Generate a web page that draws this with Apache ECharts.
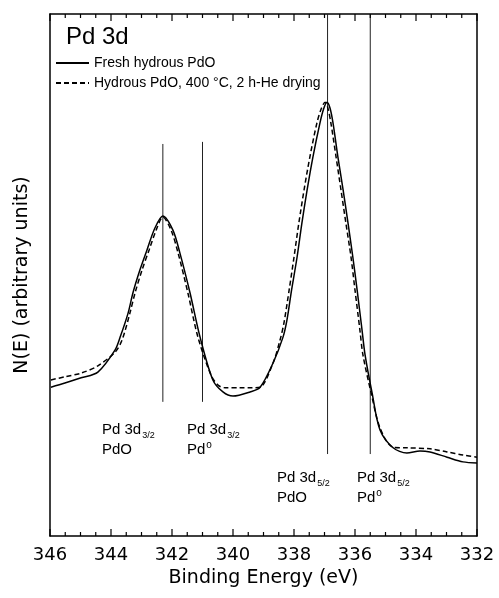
<!DOCTYPE html>
<html>
<head>
<meta charset="utf-8">
<script src="https://cdn.jsdelivr.net/npm/echarts@6/dist/echarts.min.js"></script>
<style>
  html, body { margin: 0; padding: 0; background: #fff; }
  #chart { width: 499px; height: 598px; }
</style>
</head>
<body>
<div id="chart"></div>
<script>
// binding energy (eV) and N(E) in arbitrary units (0..100 of the frame)
const freshEnergy = [345.97, 345.51, 344.98, 344.43, 343.87, 343.70, 343.44, 343.28, 343.05, 342.82,
  342.56, 342.30, 341.97, 341.74, 341.41, 341.08, 340.66, 340.33, 340.00, 339.44,
  339.11, 338.69, 338.36, 338.23, 338.08, 337.90, 337.74, 337.57, 337.38, 337.15,
  337.03, 336.92, 336.82, 336.72, 336.56, 336.39, 336.23, 336.07, 335.93, 335.77,
  335.67, 335.44, 335.18, 334.75, 334.30, 333.87, 333.54, 332.98, 332.46, 332.00]
const freshCounts = [28.5, 29.3, 30.3, 31.4, 35.6, 38.1, 42.7, 46.6, 51.0, 54.8,
  59.0, 61.3, 58.6, 54.2, 46.6, 38.1, 29.9, 27.6, 26.8, 27.6,
  28.5, 33.1, 38.1, 41.4, 47.1, 53.4, 60.0, 66.3, 72.6, 79.1,
  81.8, 83.1, 82.0, 79.1, 72.6, 66.3, 60.0, 53.4, 47.1, 39.5,
  34.7, 27.4, 20.3, 16.9, 15.9, 16.3, 16.1, 15.1, 14.2, 14.0]

const driedEnergy = [345.97, 345.51, 344.98, 344.43, 343.87, 343.64, 343.38, 343.21, 342.98, 342.75,
  342.52, 342.30, 342.03, 341.80, 341.48, 341.15, 340.72, 340.49, 340.26, 339.77,
  339.38, 339.11, 338.69, 338.46, 338.33, 338.16, 338.00, 337.84, 337.67, 337.48,
  337.25, 337.11, 336.98, 336.89, 336.79, 336.62, 336.46, 336.30, 336.13, 336.00,
  335.84, 335.74, 335.47, 335.18, 334.75, 334.30, 333.54, 332.98, 332.46, 332.00]
const driedCounts = [29.9, 30.5, 31.2, 32.6, 35.2, 37.5, 42.7, 46.6, 51.0, 54.8,
  58.6, 61.1, 58.6, 54.2, 46.6, 38.1, 30.8, 28.9, 28.4, 28.4,
  28.4, 28.5, 33.1, 37.5, 40.8, 47.1, 53.4, 60.0, 66.3, 72.6,
  79.1, 81.8, 83.1, 82.0, 79.1, 72.6, 66.3, 60.0, 53.4, 47.1,
  39.5, 34.7, 27.4, 20.7, 17.0, 16.9, 16.7, 16.1, 15.5, 15.1]

// reference peak positions drawn as thin vertical lines
const refEnergy = [342.3, 341.0, 336.9, 335.5]
const refTop = [75.1, 75.5, 100, 100]
const refBottom = [25.7, 25.7, 15.7, 15.7]

// tick marks on the top and bottom frame (inward)
const majorTicks = [332, 334, 336, 338, 340, 342, 344, 346]
const minorTicks = [332.5, 333, 333.5, 334.5, 335, 335.5, 336.5, 337, 337.5, 338.5, 339, 339.5,
  340.5, 341, 341.5, 342.5, 343, 343.5, 344.5, 345, 345.5]

const seriesNames = ['Fresh hydrous PdO', 'Hydrous PdO, 400 °C, 2 h-He drying']

const pair = (xs, ys) => xs.map((x, i) => [x, ys[i]])

const chart = echarts.init(document.getElementById('chart'))

const refSeries = refEnergy.map((e, i) => ({
  name: 'ref' + i,
  type: 'line',
  data: [[e, refTop[i]], [e, refBottom[i]]],
  symbol: 'none',
  silent: true,
  lineStyle: { color: '#222', width: 1 },
  z: 1,
}))

function xAxisBase() {
  return {
    type: 'value',
    min: 332,
    max: 346,
    interval: 2,
    inverse: true,
    splitLine: { show: false },
    axisLine: { show: true, onZero: false, lineStyle: { color: '#000', width: 1.5 } },
    axisTick: { show: false },
    minorTick: { show: false },
  }
}

const labelFont = 'Liberation Sans'
const subRich = {
  a: { fontFamily: labelFont, fontSize: 15, color: '#000' },
  s: { fontFamily: labelFont, fontSize: 9, color: '#000', padding: [11, 0, 0, 1] },
  o: { fontFamily: labelFont, fontSize: 10, color: '#000', padding: [0, 0, 10, 1] },
}

function annot(left, top, sub, second, deg) {
  return {
    type: 'text',
    left: left,
    top: top,
    style: {
      text: '{a|Pd 3d}{s|' + sub + '}\n{a|' + second + '}' + (deg ? '{o|o}' : ''),
      rich: subRich,
      lineHeight: 20,
    },
  }
}

const annotations = [
  annot(102, 420, '3/2', 'PdO', false),
  annot(187, 420, '3/2', 'Pd', true),
  annot(277, 468, '5/2', 'PdO', false),
  annot(357, 468, '5/2', 'Pd', true),
]

const option = {
  animation: false,
  backgroundColor: '#fff',
  title: {
    text: 'Pd 3d',
    left: 66,
    top: 25,
    padding: 0,
    textStyle: { fontFamily: labelFont, fontSize: 24, fontWeight: 'normal', color: '#000' },
  },
  legend: {
    data: seriesNames,
    orient: 'vertical',
    left: 55,
    top: 56,
    padding: 0,
    itemWidth: 33,
    itemHeight: 14,
    itemGap: 6,
    itemStyle: { opacity: 0 },
    textStyle: { fontFamily: labelFont, fontSize: 14, color: '#000' },
  },
  grid: { left: 50, right: 22, top: 14, bottom: 62 },
  xAxis: [
    Object.assign(xAxisBase(), {
      position: 'bottom',
      name: 'Binding Energy (eV)',
      nameLocation: 'middle',
      nameGap: 32,
      nameTextStyle: { fontFamily: 'DejaVu Sans', fontSize: 19, color: '#000' },
      axisLabel: { margin: 10, fontFamily: 'DejaVu Sans', fontSize: 18, color: '#000' },
    }),
    Object.assign(xAxisBase(), {
      position: 'top',
      axisLabel: { show: false },
    }),
  ],
  yAxis: [
    {
      type: 'value',
      min: 0,
      max: 100,
      position: 'left',
      name: 'N(E) (arbitrary units)',
      nameLocation: 'middle',
      nameGap: 18,
      nameTextStyle: { fontFamily: 'DejaVu Sans', fontSize: 19, color: '#000' },
      axisLine: { show: true, onZero: false, lineStyle: { color: '#000', width: 1.5 } },
      axisTick: { show: false },
      axisLabel: { show: false },
      splitLine: { show: false },
    },
    {
      type: 'value',
      min: 0,
      max: 100,
      position: 'right',
      axisLine: { show: true, onZero: false, lineStyle: { color: '#000', width: 1.5 } },
      axisTick: { show: false },
      axisLabel: { show: false },
      splitLine: { show: false },
    },
  ],
  series: [
    {
      name: seriesNames[0],
      type: 'line',
      data: pair(freshEnergy, freshCounts),
      symbol: 'none',
      smooth: 0.3,
      itemStyle: { color: '#000' },
      lineStyle: { color: '#000', width: 1.5 },
      z: 3,
    },
    {
      name: seriesNames[1],
      type: 'line',
      data: pair(driedEnergy, driedCounts),
      symbol: 'none',
      smooth: 0.3,
      itemStyle: { color: '#000' },
      lineStyle: { color: '#000', width: 1.5, type: [5, 3] },
      z: 3,
    },
  ].concat(refSeries),
  graphic: annotations,
}

chart.setOption(option)

// inward frame ticks, placed with the chart's own x / y scales
const tickMarks = []
majorTicks.concat(minorTicks).forEach(v => {
  const len = majorTicks.indexOf(v) >= 0 ? 7 : 4
  const b = chart.convertToPixel({ xAxisIndex: 0, yAxisIndex: 0 }, [v, 0])
  const t = chart.convertToPixel({ xAxisIndex: 0, yAxisIndex: 0 }, [v, 100])
  tickMarks.push({
    type: 'line',
    z: 100,
    shape: { x1: b[0], y1: b[1], x2: b[0], y2: b[1] - len },
    style: { stroke: '#000', lineWidth: 1.2 },
  })
  tickMarks.push({
    type: 'line',
    z: 100,
    shape: { x1: t[0], y1: t[1], x2: t[0], y2: t[1] + len },
    style: { stroke: '#000', lineWidth: 1.2 },
  })
})
chart.setOption({ graphic: annotations.concat(tickMarks) })
</script>
</body>
</html>
